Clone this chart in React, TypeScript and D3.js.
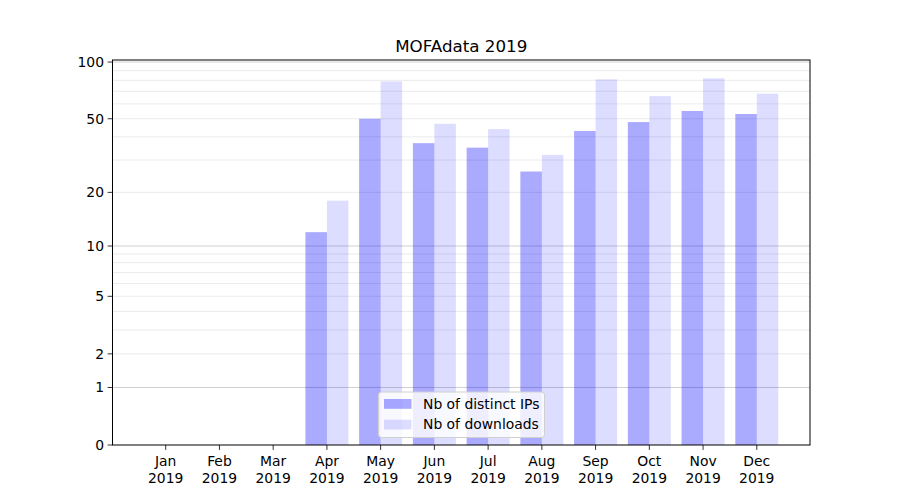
import * as d3 from "d3";
import React from "react";

// Monthly stats
const months = ["Jan", "Feb", "Mar", "Apr", "May", "Jun", "Jul", "Aug", "Sep", "Oct", "Nov", "Dec"];
const year = "2019";
const distinctIPs = [0, 0, 0, 12, 50, 37, 35, 26, 43, 48, 55, 53];
const downloads = [0, 0, 0, 18, 79, 47, 44, 32, 81, 66, 82, 68];
const yTicks = [0, 1, 2, 5, 10, 20, 50, 100];
const majorGrid = [1, 10, 100];
const minorGrid = [2, 3, 4, 5, 6, 7, 8, 9, 20, 30, 40, 50, 60, 70, 80, 90];
const seriesLabels = ["Nb of distinct IPs", "Nb of downloads"];

const width = 900;
const height = 500;
const margin = { top: 60, right: 90, bottom: 55, left: 112.5 };
const barWidth = 0.4;
const font = "'DejaVu Sans', sans-serif";

const App: React.FC = () => {
  const left = margin.left;
  const right = width - margin.right;
  const top = margin.top;
  const bottom = height - margin.bottom;

  // x: month index, 5% padding around bar extent (like matplotlib)
  const lo = -barWidth;
  const hi = months.length - 1 + barWidth;
  const pad = (hi - lo) * 0.05;
  const x = d3.scaleLinear().domain([lo - pad, hi + pad]).range([left, right]);

  // y: symlog (log10(1 + v)), 5% headroom in transformed space
  const yMaxData = d3.max([...distinctIPs, ...downloads]) ?? 1;
  const yMax = Math.pow(10, Math.log10(1 + yMaxData) * 1.05) - 1;
  const y = d3.scaleSymlog().constant(1).domain([0, yMax]).range([bottom, top]);

  const bw = x(barWidth) - x(0);

  const legendX = 378.5;
  const legendY = 392;

  return (
    <svg
      width={width}
      height={height}
      style={{ position: "absolute", left: 0, top: 0, background: "white" }}
      fontFamily={font}
    >
      <rect x={0} y={0} width={width} height={height} fill="white" />

      {/* grid */}
      {minorGrid.map((v) => (
        <line key={"mi" + v} x1={left} x2={right} y1={y(v)} y2={y(v)} stroke="#e6e6e6" strokeWidth={0.8} />
      ))}
      {majorGrid.map((v) => (
        <line key={"ma" + v} x1={left} x2={right} y1={y(v)} y2={y(v)} stroke="#c4c4c4" strokeWidth={0.8} />
      ))}

      {/* bars */}
      {distinctIPs.map((v, i) => (
        <rect
          key={"ip" + i}
          x={x(i - barWidth)}
          y={y(v)}
          width={bw}
          height={y(0) - y(v)}
          fill="blue"
          fillOpacity={0.333}
        />
      ))}
      {downloads.map((v, i) => (
        <rect
          key={"dl" + i}
          x={x(i)}
          y={y(v)}
          width={bw}
          height={y(0) - y(v)}
          fill="blue"
          fillOpacity={0.135}
        />
      ))}

      {/* frame */}
      <rect x={left} y={top} width={right - left} height={bottom - top} fill="none" stroke="black" strokeWidth={1} />

      {/* y ticks */}
      {yTicks.map((v) => (
        <g key={"yt" + v}>
          <line x1={left - 4.9} x2={left} y1={y(v)} y2={y(v)} stroke="black" strokeWidth={0.8} />
          <text x={left - 8.5} y={y(v)} dy="0.35em" textAnchor="end" fontSize={13.9} fill="black">
            {v}
          </text>
        </g>
      ))}

      {/* x ticks */}
      {months.map((m, i) => (
        <g key={"xt" + m}>
          <line x1={x(i)} x2={x(i)} y1={bottom} y2={bottom + 4.9} stroke="black" strokeWidth={0.8} />
          <text x={x(i)} y={bottom + 21} textAnchor="middle" fontSize={13.9} fill="black">
            {m}
          </text>
          <text x={x(i)} y={bottom + 37.5} textAnchor="middle" fontSize={13.9} fill="black">
            {year}
          </text>
        </g>
      ))}

      {/* title */}
      <text x={(left + right) / 2} y={top - 8} textAnchor="middle" fontSize={16.7} fill="black">
        MOFAdata 2019
      </text>

      {/* legend */}
      <g transform={`translate(${legendX},${legendY})`}>
        <rect x={0} y={0} width={166} height={45.5} rx={3} fill="white" fillOpacity={0.8} stroke="#d0d0d0" strokeWidth={1} />
        {seriesLabels.map((label, i) => (
          <g key={label} transform={`translate(0,${7 + i * 20.7})`}>
            <rect x={5.5} y={0} width={27.5} height={9.8} fill="blue" fillOpacity={i === 0 ? 0.333 : 0.135} />
            <text x={44.5} y={4.9} dy="0.35em" fontSize={13.9} fill="black">
              {label}
            </text>
          </g>
        ))}
      </g>
    </svg>
  );
};

export default App;
